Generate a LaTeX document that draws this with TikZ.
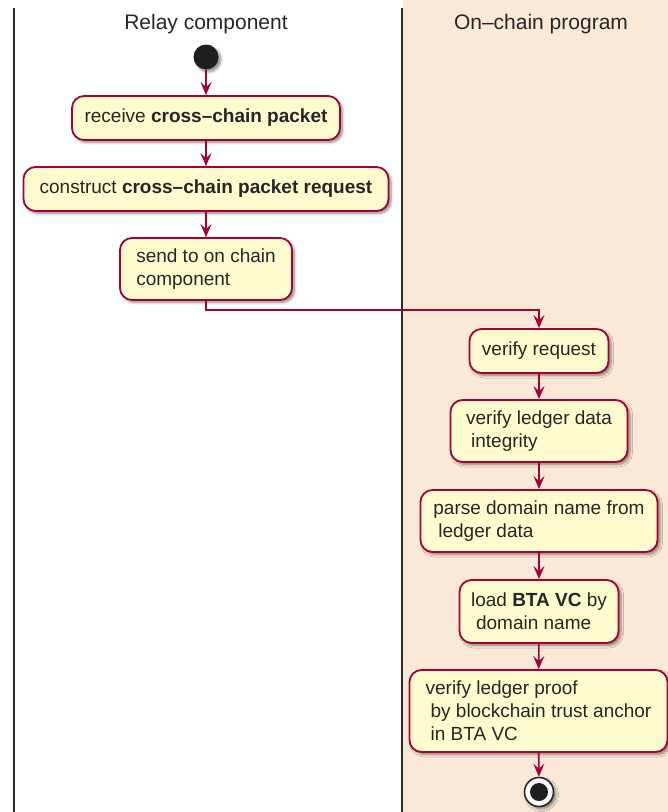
\documentclass[tikz,border=0pt]{standalone}
\usepackage{fontspec}
\setmainfont{Liberation Sans}
\usetikzlibrary{arrows.meta,shadows.blur}
\definecolor{umlred}{HTML}{A80036}
\definecolor{umlfill}{HTML}{FEFBCE}
\definecolor{lanebg}{HTML}{FAE9D7}
\definecolor{laneline}{HTML}{2B2B2B}
\tikzset{
  shd/.style={blur shadow={shadow xshift=2.5pt, shadow yshift=-2.5pt, shadow blur steps=6,
    shadow blur radius=2.5pt, shadow opacity=45}},
  act/.style={draw=umlred, fill=umlfill, line width=1.8pt, rounded corners=12pt,
    align=left, inner xsep=8pt, inner ysep=4pt,
    font=\fontsize{19}{23}\selectfont, text=black!85, shd},
  arr/.style={draw=umlred, line width=1.6pt, -{Stealth[length=13pt,width=11pt,inset=5pt]}},
  lanetitle/.style={font=\fontsize{21}{25}\selectfont, text=black!85},
  lanesep/.style={draw=laneline, line width=1.8pt}
}
\begin{document}
\begin{tikzpicture}[x=1pt,y=-1pt]
\useasboundingbox (0,0) rectangle (668,812);
\fill[lanebg] (403,0) rectangle (668,812);
\draw[lanesep] (14,8) -- (14,812);
\draw[lanesep] (402,8) -- (402,812);
\node[lanetitle] (t1) at (206,24) {Relay component};
\node[lanetitle] (t2) at (541,24) {On–chain program};

\node[circle, fill=black!88, minimum size=25pt, inner sep=0pt, shd] (start) at (206,57) {};

\node[act, minimum width=268pt, minimum height=44pt] (n1) at (206,118)
  {receive \textbf{cross–chain packet}};
\node[act, minimum width=365pt, minimum height=44pt] (n2) at (206,189)
  {construct \textbf{cross–chain packet request}};
\node[act, minimum width=172pt, minimum height=62pt] (n3) at (206,269)
  {send to on chain\\component};

\node[act, minimum width=139pt, minimum height=44pt] (n4) at (539,351)
  {verify request};
\node[act, minimum width=177pt, minimum height=62pt] (n5) at (539,431)
  {verify ledger data\\\hspace*{5pt}integrity};
\node[act, minimum width=237pt, minimum height=62pt] (n6) at (539,521)
  {parse domain name from\\\hspace*{5pt}ledger data};
\node[act, minimum width=159pt, minimum height=63pt] (n7) at (539,611.5)
  {load \textbf{BTA VC} by\\\hspace*{5pt}domain name};
\node[act, minimum width=258pt, minimum height=82pt] (n8) at (538.5,711)
  {verify ledger proof\\\hspace*{5pt}by blockchain trust anchor\\\hspace*{5pt}in BTA VC};

\node[circle, draw=black!85, line width=1.6pt, fill=white, minimum size=29pt, inner sep=0pt, shd] (stop) at (539,792) {};
\node[circle, fill=black!88, minimum size=18pt, inner sep=0pt] (stopin) at (stop.center) {};

\draw[arr] (start) -- (n1);
\draw[arr] (n1) -- (n2);
\draw[arr] (n2) -- (n3);
\draw[arr] (n3.south) -- ++(0,9) -| (n4.north);
\draw[arr] (n4) -- (n5);
\draw[arr] (n5) -- (n6);
\draw[arr] (n6) -- (n7);
\draw[arr] (n7) -- (n8);
\draw[arr] (n8) -- (stop);
\end{tikzpicture}
\end{document}
